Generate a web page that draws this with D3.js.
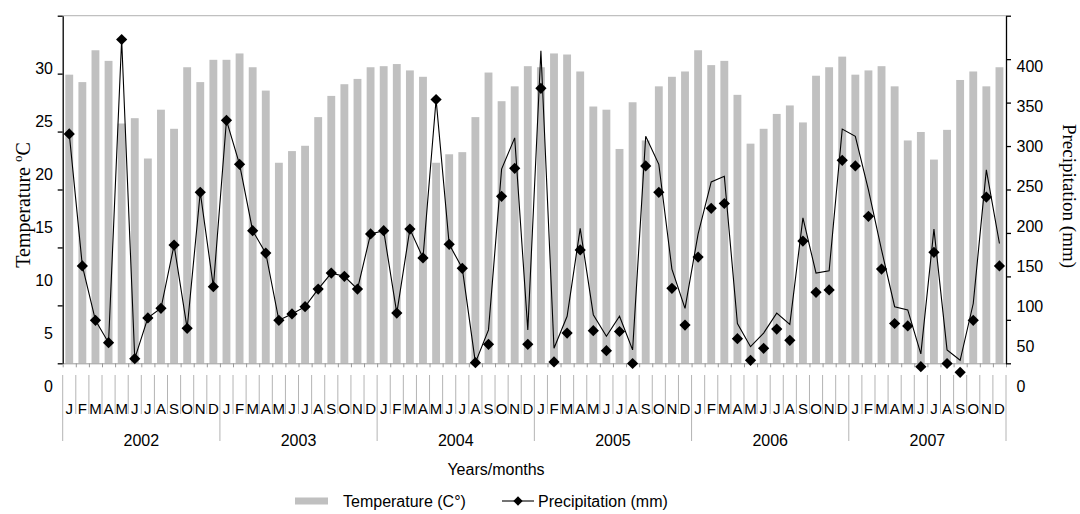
<!DOCTYPE html>
<html>
<head>
<meta charset="utf-8">
<script src="https://cdn.jsdelivr.net/npm/d3@7"></script>
<style>
  html, body { margin: 0; padding: 0; background: #fff; }
  svg { display: block; }
  text { font-family: "Liberation Sans", Arial, sans-serif; fill: #000; }
  .serif { font-family: "Liberation Serif", "Times New Roman", serif; }
</style>
</head>
<body>
<svg id="chart" width="1080" height="514"></svg>
<script>
// ---------------- DATA ----------------
const years = ["2002", "2003", "2004", "2005", "2006", "2007"];
const monthLetters = ["J", "F", "M", "A", "M", "J", "J", "A", "S", "O", "N", "D"];

// Monthly mean temperature (°C), Jan 2002 – Dec 2007
const temperature = [
  29.4, 28.7, 31.7, 30.7, 24.8, 25.3, 21.5, 26.1, 24.3, 30.1, 28.7, 30.8,
  30.8, 31.4, 30.1, 27.9, 21.1, 22.2, 22.7, 25.4, 27.4, 28.5, 29.0, 30.1,
  30.2, 30.4, 29.8, 29.2, 21.1, 21.9, 22.1, 25.4, 29.6, 26.9, 28.3, 30.2,
  30.1, 31.4, 31.3, 29.7, 26.4, 26.1, 22.4, 26.8, 23.2, 28.3, 29.2, 29.7,
  31.7, 30.3, 30.7, 27.5, 22.9, 24.3, 25.7, 26.5, 24.9, 29.3, 30.1, 31.1,
  29.4, 29.8, 30.2, 28.3, 23.2, 24.0, 21.4, 24.2, 28.9, 29.7, 28.3, 30.1
];

// Monthly precipitation (mm) – diamond markers
const precipitation = [
  316, 151, 83, 55, 434, 35, 86, 98, 177, 73, 243, 125,
  333, 278, 195, 167, 83, 91, 100, 122, 142, 138, 122, 191,
  195, 92, 197, 161, 359, 178, 148, 30, 53, 238, 273, 53,
  373, 31, 67, 171, 70, 45, 69, 29, 276, 243, 123, 77,
  162, 223, 229, 60, 33, 48, 72, 58, 182, 118, 121, 283,
  276, 213, 147, 79, 76, 25, 168, 29, 18, 83, 237, 151
];

// Precipitation (mm) – connecting line as drawn in the original
const precipitationLine = [
  316, 151, 83, 55, 434, 35, 86, 98, 177, 73, 243, 125,
  333, 278, 195, 167, 83, 91, 100, 122, 142, 138, 122, 191,
  195, 92, 197, 161, 359, 178, 148, 30, 71, 272, 311, 71,
  420, 48, 88, 198, 90, 63, 88, 46, 313, 278, 147, 98,
  191, 256, 263, 79, 50, 67, 92, 78, 211, 142, 145, 322,
  313, 246, 171, 100, 96, 41, 197, 46, 33, 104, 271, 179
];

const tempTicks = [0, 5, 10, 15, 20, 25, 30];
const precipTicks = [0, 50, 100, 150, 200, 250, 300, 350, 400];

// ---------------- LAYOUT ----------------
const plotL = 62.7, plotR = 1006, plotT = 15.7, plotB = 363.3;
const svg = d3.select("#chart");

const nMonths = years.length * monthLetters.length;
const months = d3.range(nMonths);

const xBand = d3.scaleBand().domain(months).range([plotL, plotR]).padding(0);
const xBar = d3.scaleBand().domain(months).range([plotL, plotR])
  .paddingInner(0.4).paddingOuter(0.2);
const xEdge = d3.scaleLinear().domain([0, nMonths]).range([plotL, plotR]);
const xMid = i => xBand(i) + xBand.bandwidth() / 2;

// value scales (as labelled on the axes)
const yTemp = d3.scaleLinear().domain([0, 30]).range([386.7, 68.3]);
const yPrec = d3.scaleLinear().domain([0, 400]).range([386.7, 66.7]);

// tick-mark scales (ticks on axis lines)
const tickL = d3.scaleLinear().domain([0, 6]).range([plotB, plotT]);
const tickR = d3.scaleLinear().domain([0, 8]).range([plotB, plotT]);

// top border line
svg.append("line")
  .attr("x1", plotL).attr("x2", plotR).attr("y1", plotT).attr("y2", plotT)
  .attr("stroke", "#c0c0c0").attr("stroke-width", 1.2);

// bars
svg.append("g").selectAll("rect").data(temperature).join("rect")
  .attr("x", (d, i) => xBar(i))
  .attr("width", xBar.bandwidth())
  .attr("y", d => yTemp(d))
  .attr("height", d => plotB - yTemp(d))
  .attr("fill", "#c0c0c0");

// bottom axis line with small ticks
const xAxis = d3.axisBottom(xEdge).tickValues(d3.range(nMonths + 1))
  .tickSize(4).tickSizeOuter(0).tickFormat("");
const gx = svg.append("g").attr("transform", `translate(0,${plotB})`).call(xAxis);
gx.selectAll("path, line").attr("stroke", "#9a9a9a");

// month / year separator lines
svg.append("g").selectAll("line").data(d3.range(nMonths + 1)).join("line")
  .attr("x1", d => xEdge(d)).attr("x2", d => xEdge(d))
  .attr("y1", 375)
  .attr("y2", d => d % 12 === 0 ? 441 : 414)
  .attr("stroke", "#b4b4b4").attr("stroke-width", 1);

// month labels
svg.append("g").selectAll("text").data(months).join("text")
  .attr("x", d => xMid(d)).attr("y", 408.5)
  .attr("dy", "0.35em").attr("text-anchor", "middle")
  .attr("font-size", 15)
  .text(d => monthLetters[d % 12]);

// year labels
svg.append("g").selectAll("text").data(years).join("text")
  .attr("x", (d, i) => (xEdge(i * 12) + xEdge(i * 12 + 12)) / 2)
  .attr("y", 440.5).attr("dy", "0.35em").attr("text-anchor", "middle")
  .attr("font-size", 16)
  .text(d => d);

// left axis
const gl = svg.append("g").attr("transform", `translate(${plotL},0)`)
  .call(d3.axisLeft(tickL).tickValues(d3.range(7)).tickSize(5).tickSizeOuter(0).tickFormat(""));
gl.selectAll("path, line").attr("stroke", "#000").attr("stroke-width", 1.3);
svg.append("g").selectAll("text").data(tempTicks).join("text")
  .attr("x", 53).attr("y", d => yTemp(d)).attr("dy", "0.35em")
  .attr("text-anchor", "end").attr("font-size", 16)
  .text(d => d);

// right axis
const gr = svg.append("g").attr("transform", `translate(${plotR},0)`)
  .call(d3.axisRight(tickR).tickValues(d3.range(9)).tickSize(5).tickSizeOuter(0).tickFormat(""));
gr.selectAll("path, line").attr("stroke", "#000").attr("stroke-width", 1.3);
svg.append("g").selectAll("text").data(precipTicks).join("text")
  .attr("x", 1016.5).attr("y", d => yPrec(d)).attr("dy", "0.35em")
  .attr("text-anchor", "start").attr("font-size", 16)
  .text(d => d);

// precipitation line
const line = d3.line().x((d, i) => xMid(i)).y(d => yPrec(d));
svg.append("path").datum(precipitationLine)
  .attr("d", line).attr("fill", "none")
  .attr("stroke", "#000").attr("stroke-width", 1.1);

// diamond markers
const diamond = d3.symbol().type(d3.symbolDiamond2).size(80);
svg.append("g").selectAll("path").data(precipitation).join("path")
  .attr("transform", (d, i) => `translate(${xMid(i)},${yPrec(d)})`)
  .attr("d", diamond).attr("fill", "#000");

// axis titles
const lt = svg.append("text").attr("class", "serif")
  .attr("transform", "translate(30,205) rotate(-90)")
  .attr("text-anchor", "middle").attr("font-size", 20);
lt.append("tspan").text("Temperature ");
lt.append("tspan").attr("dy", -8).attr("font-size", 13).text("o");
lt.append("tspan").attr("dy", 8).text("C");

svg.append("text").attr("class", "serif")
  .attr("transform", "translate(1063,196) rotate(90)")
  .attr("text-anchor", "middle").attr("font-size", 19)
  .text("Precipitation (mm)");

svg.append("text")
  .attr("x", 496).attr("y", 469).attr("dy", "0.35em")
  .attr("text-anchor", "middle").attr("font-size", 16)
  .text("Years/months");

// legend
const lg = svg.append("g");
lg.append("rect").attr("x", 295).attr("y", 497.5).attr("width", 33).attr("height", 7)
  .attr("fill", "#c0c0c0");
lg.append("text").attr("x", 343).attr("y", 501).attr("dy", "0.35em")
  .attr("font-size", 16).text("Temperature (C°)");
lg.append("line").attr("x1", 502).attr("x2", 534).attr("y1", 501).attr("y2", 501)
  .attr("stroke", "#000").attr("stroke-width", 1.1);
lg.append("path").attr("transform", "translate(518,501)")
  .attr("d", d3.symbol().type(d3.symbolDiamond2).size(55)).attr("fill", "#000");
lg.append("text").attr("x", 538).attr("y", 501).attr("dy", "0.35em")
  .attr("font-size", 16).text("Precipitation (mm)");
</script>
</body>
</html>
